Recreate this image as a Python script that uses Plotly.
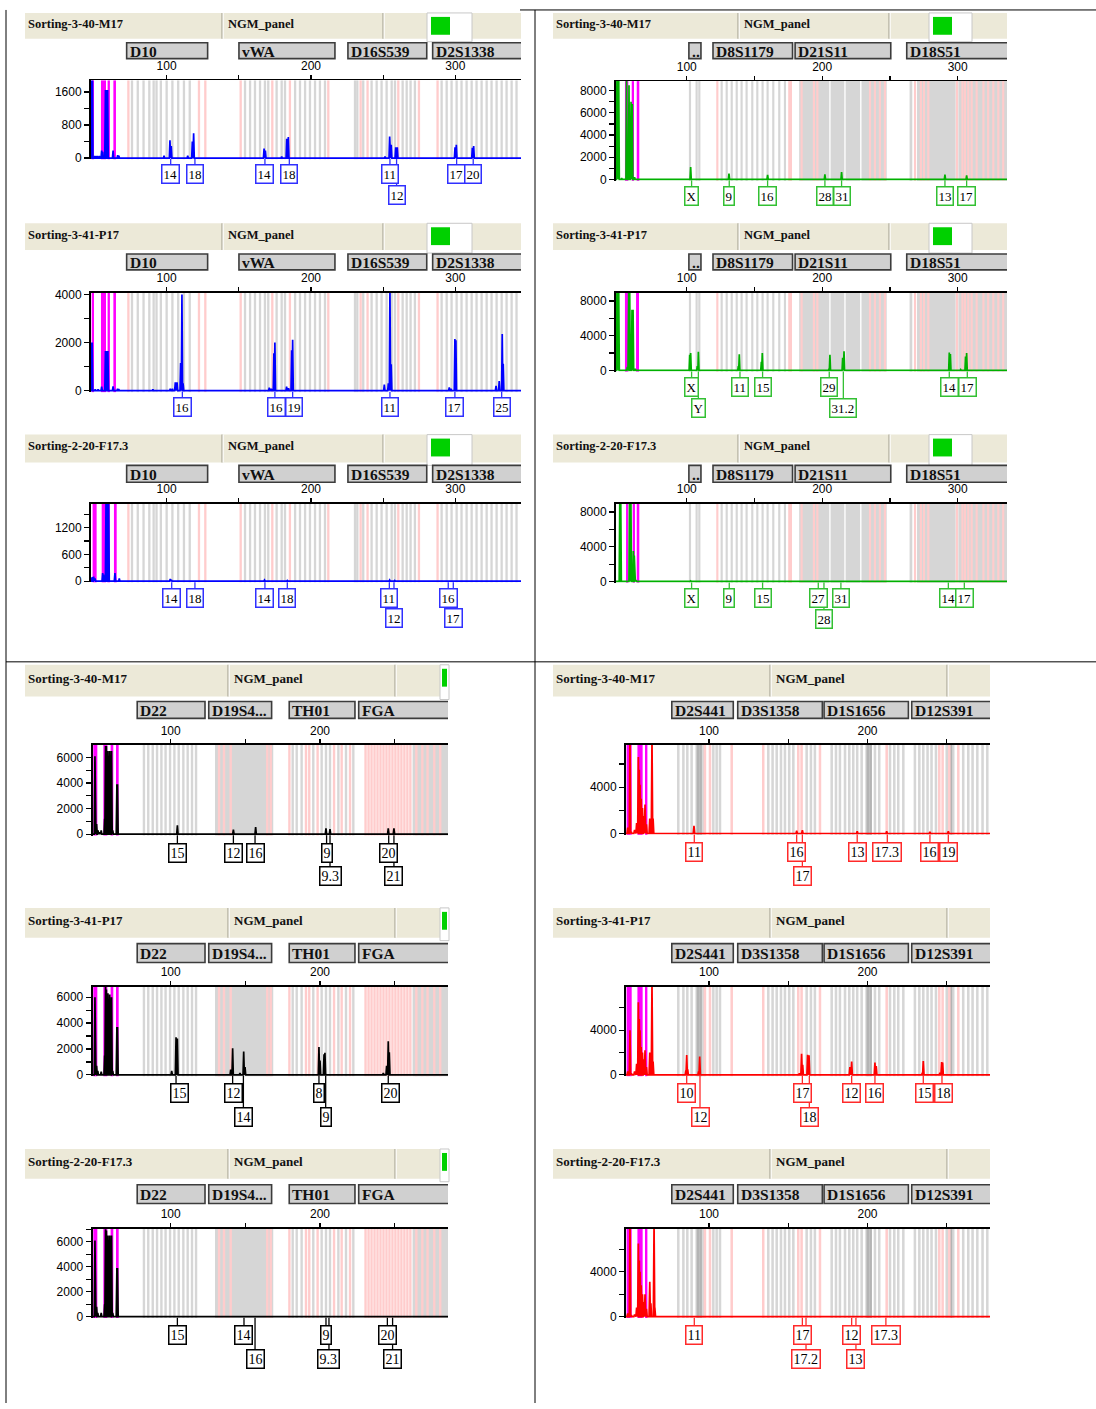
import plotly.graph_objects as go

W, H = 1096, 1409

# ---------------------------------------------------------------- data
SAMPLES = ["Sorting-3-40-M17", "Sorting-3-41-P17", "Sorting-2-20-F17.3"]
KIT = "NGM_panel"

BLUE_LOCI = ["D10", "vWA", "D16S539", "D2S1338"]
BLUE_LOCUS_BP = [(72.3, 128.4), (150.1, 216.6), (225.6, 280.2), (284.3, 352.0)]
GREEN_LOCI = ["..", "D8S1179", "D21S11", "D18S51"]
GREEN_LOCUS_BP = [(101.6, 110.5), (119.4, 178.1), (180.0, 250.6), (262.4, 345.0)]
BLACK_LOCI = ["D22", "D19S4...", "TH01", "FGA"]
BLACK_LOCUS_BP = [(77.6, 123.0), (125.5, 167.6), (179.4, 223.4), (225.9, 295.0)]
RED_LOCI = ["D2S441", "D3S1358", "D1S1656", "D12S391"]
RED_LOCUS_BP = [(76.5, 115.3), (118.1, 171.5), (172.6, 225.8), (227.9, 290.0)]

# allelic-ladder bins (bp)
BLUE_GRAY = [76, 80, 84, 88, 91, 93, 96, 100, 104, 108, 112, 116,
             154.3, 157.8, 161.2, 164.7, 168.1, 170.4, 176.2, 179.7, 182.0, 189.0, 192.4,
             195.9, 199.3, 202.8, 206.2, 209.7,
             230.5, 232.1, 236.2, 242.0, 245.5, 248.9, 252.4, 255.9, 258.2, 263.5, 266.3, 269.0, 272.0,
             290.5, 294.0, 297.4, 300.9, 304.3, 307.8, 311.3, 314.7, 318.2, 321.7, 325.1, 328.6,
             332.1, 335.5, 339.0, 342.4]
BLUE_PINK = [73.5, 122.4, 126.8, 151.3, 173.2, 185.4, 212.0, 234.4, 239.2, 260.5, 274.8, 287.7]

GREEN_GRAY = [102.4, 107.3, 109.3, 125.8, 129.5, 133.2, 136.9, 140.5, 144.2, 148.4, 152.1,
              156.0, 159.7, 163.9, 168.3, 172.5]
GREEN_BANDS = [(183.0, 205.2), (206.2, 216.3), (217.3, 228.0), (229.0, 247.6),
               (264.5, 266.5), (270.0, 298.5), (300.5, 337.0)]
GREEN_PINK = [122.6, 175.7, 176.9, 184.8, 193.9, 196.4, 235.3, 238.9, 242.6, 246.3,
              268.5, 272.8, 275.1, 278.3, 299.5, 303.5, 305.4, 307.8, 310.3, 314.0,
              319.0, 322.5, 326.3, 330.0, 333.6]

BLACK_GRAY = [82.1, 85.0, 88.0, 90.9, 93.8, 96.6, 99.6, 102.5, 105.4, 108.5, 111.4, 114.3, 117.0,
              181.7, 184.4, 187.7, 195.5, 201.1, 204.0, 206.7, 212.3, 217.4, 222.3]
BLACK_BANDS = [(129.7, 168.7), (262.0, 286.0)]
BLACK_PINK = [132.4, 135.7, 140.2, 164.7, 167.0,
              179.5, 190.6, 192.8, 198.4, 209.4, 214.5, 220.1,
              230.5, 232.5, 234.5, 236.5, 238.5, 240.5, 242.5, 244.5, 246.5, 248.5,
              250.5, 252.5, 254.5, 256.5, 258.5, 260.5,
              264.5, 268.5, 272.0, 276.5, 280.5]

RED_GRAY = [80.6, 83.8, 86.3, 89.0, 92.2, 93.9, 95.3, 96.8, 102.7, 104.8, 106.9,
            137.4, 140.1, 142.7, 145.4, 147.9, 150.6, 153.2, 161.6, 164.3, 166.8,
            177.4, 180.1, 182.6, 185.8, 188.5, 191.0, 193.5, 196.3, 199.4, 201.5, 204.7,
            207.4, 214.2, 216.9, 219.4, 222.6,
            229.9, 232.7, 235.2, 237.9, 240.4, 243.2, 250.0, 254.1, 260.4, 263.6, 266.3,
            269.3, 272.6, 275.6]
RED_PINK = [97.4, 100.6, 114.3, 134.2, 156.3, 158.4, 170.0, 212.1, 245.3, 247.4, 251.6, 257.3]
RED_DARK = [93.0, 94.7, 200.2, 202.0, 252.6]

# peaks: (size bp, height RFU)
TL1_PEAKS = [(47.8, 2600), (48.5, 2600), (50.3, 50), (51.8, 50), (53.3, 50), (55.0, 180), (55.7, 150),
             (57.6, 1650), (58.1, 1650), (58.6, 1650), (59.1, 1650), (62.9, 180), (66.1, 70), (66.9, 60),
             (98.2, 60), (102.3, 430), (103.2, 290), (114.6, 60), (117.8, 400), (118.7, 600),
             (167.5, 230), (168.4, 180), (179.7, 40), (183.2, 470), (184.3, 510),
             (251.3, 40), (254.5, 520), (255.6, 320), (258.7, 260), (259.8, 260),
             (299.8, 260), (300.7, 320), (311.8, 250), (312.7, 290)]
TL2_PEAKS = [(47.8, 2000), (48.4, 2000), (50.5, 60), (52.5, 60), (55.0, 170), (57.6, 1650), (58.2, 1650),
             (58.8, 1650), (59.3, 1650), (62.9, 180), (66.0, 80), (66.8, 70),
             (90.5, 60), (102.5, 80), (104.0, 80), (106.0, 350), (107.2, 350), (109.7, 1150), (110.6, 4000),
             (111.4, 300), (171.1, 120), (172.5, 80), (174.3, 1550), (175.0, 2000),
             (183.1, 170), (184.5, 100), (186.6, 1680), (187.3, 2120),
             (250.8, 250), (253.6, 300), (254.7, 4300), (255.6, 1100),
             (295.8, 130), (297.0, 80), (299.7, 2150), (300.4, 2100),
             (328.2, 200), (330.4, 400), (332.5, 2350), (333.2, 1120)]
TL3_PEAKS = [(47.8, 80), (48.6, 90), (49.4, 100), (50.4, 60), (55.7, 180), (56.3, 150), (58.0, 1800),
             (58.6, 1800), (59.2, 1650), (59.8, 1800), (64.2, 180), (67.2, 60),
             (102.5, 50), (103.3, 30), (118.8, 15), (167.8, 25), (183.6, 15), (254.5, 25), (258.0, 15),
             (296.0, 15), (299.3, 15)]
TR1_PEAKS = [(48.5, 9500), (49.8, 9500), (52.0, 100), (55.6, 9500), (57.4, 8500), (58.9, 7000),
             (59.8, 6800), (61.5, 200),
             (102.9, 1100), (131.2, 510), (159.7, 400), (202.0, 450), (214.3, 660), (290.6, 420), (306.6, 350)]
TR2_PEAKS = [(48.5, 9500), (49.8, 9500), (56.2, 400), (57.2, 9500), (57.9, 9500), (59.6, 7000), (60.4, 7000),
             (62.0, 200),
             (102.2, 1800), (102.9, 2000), (107.8, 500), (108.6, 2150), (138.1, 500), (138.8, 1850),
             (155.1, 1000), (155.8, 2000), (205.0, 200), (205.7, 1800), (215.1, 1450), (216.1, 2200),
             (293.8, 2050), (294.6, 1900), (302.2, 100), (305.8, 1600), (306.6, 2000)]
TR3_PEAKS = [(50.6, 9500), (51.3, 9500), (57.8, 9500), (58.8, 9500), (60.6, 3500), (61.3, 3000), (62.5, 150),
             (102.9, 60), (131.2, 40), (155.8, 40), (197.0, 30), (201.0, 30), (213.8, 30), (293.5, 40),
             (305.5, 40)]
BL1_PEAKS = [(49.3, 6100), (50.4, 800), (51.2, 300), (52.5, 150), (53.5, 300), (55.8, 1200), (56.4, 6900),
             (57.0, 6900), (57.5, 3500), (58.0, 6500), (58.5, 2000), (59.2, 6500), (59.8, 1500), (60.4, 6500),
             (61.2, 300), (64.0, 3900), (64.4, 3900),
             (104.5, 700), (142.0, 350), (156.9, 550), (204.0, 450), (206.7, 400), (245.7, 450), (249.5, 450)]
BL2_PEAKS = [(49.3, 6000), (50.4, 700), (51.2, 300), (53.5, 250), (55.8, 1500), (56.4, 6800), (57.0, 6600),
             (57.5, 4500), (58.0, 6300), (58.5, 2500), (59.2, 6200), (59.8, 1500), (60.4, 6000),
             (61.2, 300), (64.0, 3700), (64.4, 3700),
             (100.7, 300), (103.6, 2900), (104.5, 2800), (140.2, 400), (141.5, 2050), (146.4, 150),
             (148.9, 1800), (149.8, 600), (199.3, 2150), (200.0, 1100), (202.7, 1600), (203.3, 1700),
             (242.4, 150), (244.6, 700), (245.7, 2600), (246.4, 1750)]
BL3_PEAKS = [(49.3, 6100), (50.4, 800), (51.2, 300), (53.5, 300), (55.8, 1000), (56.4, 7000), (57.0, 6900),
             (57.5, 3000), (58.0, 6500), (58.5, 1500), (59.2, 6500), (59.8, 1800), (60.4, 6500),
             (61.2, 300), (64.0, 3900), (64.4, 3900),
             (104.5, 30), (149.1, 20), (156.5, 20), (204.0, 20), (206.0, 20), (245.1, 20), (248.6, 20)]
BR1_PEAKS = [(48.7, 500), (50.1, 9000), (51.0, 150), (53.0, 300), (54.3, 900), (55.4, 6600), (56.0, 5500),
             (56.5, 4200), (57.2, 3000), (58.0, 2200), (58.6, 1500), (59.6, 2500), (60.5, 800), (62.6, 1300),
             (63.3, 1300), (64.0, 8500), (64.7, 1300),
             (90.5, 650), (155.3, 250), (158.9, 280), (193.5, 200), (212.1, 200), (239.4, 150), (251.0, 180)]
BR2_PEAKS = [(48.7, 300), (50.1, 4000), (51.0, 150), (53.0, 300), (54.3, 1000), (55.4, 6500), (56.0, 5000),
             (56.5, 4000), (57.2, 2500), (58.0, 2000), (58.6, 1400), (59.6, 2200), (60.5, 700), (62.6, 2000),
             (63.3, 1200), (64.0, 8500), (64.7, 1200),
             (85.4, 400), (85.9, 1780), (86.5, 500), (93.4, 300), (94.1, 1650), (157.0, 150), (158.4, 1900),
             (159.1, 900), (162.2, 1800), (163.1, 1750), (188.9, 700), (190.0, 1200), (204.7, 1100),
             (205.5, 800), (234.6, 200), (235.2, 1250), (245.7, 200), (246.8, 1150), (247.4, 1100)]
BR3_PEAKS = [(48.7, 300), (50.1, 9000), (51.0, 150), (53.0, 200), (54.3, 800), (55.4, 6500), (56.0, 5000),
             (56.5, 4000), (57.2, 2800), (58.0, 2000), (58.6, 1300), (59.6, 2000), (60.5, 700), (62.6, 3100),
             (63.3, 1200), (65.3, 8500), (65.8, 800),
             (90.7, 20), (158.9, 20), (161.2, 20), (190.0, 20), (192.7, 20), (211.6, 20)]

# off-scale (magenta) regions (bp start, bp end)
TL_OFF = [(48.1, 49.7), (54.5, 58.0), (59.1, 60.7), (63.1, 64.9)]
TL3_OFF = [(48.7, 51.5), (55.0, 58.0), (58.9, 60.7), (63.5, 65.4)]
TR1_OFF = [(54.4, 56.9), (59.4, 61.1), (63.1, 65.0)]
TR2_OFF = [(54.4, 56.9), (62.6, 64.8)]
TR3_OFF = [(55.2, 56.9), (60.1, 61.8), (63.1, 65.0)]
BL_OFF = [(48.2, 50.9), (54.9, 57.6), (59.8, 61.6), (63.4, 65.2)]
BR_OFF = [(48.0, 51.2), (54.8, 58.1), (59.6, 61.1)]

# allele calls: (label, peak bp, label-box bp, row)
TL1_ALLELES = [("14", 102.8, 102.8, 1), ("18", 119.6, 119.6, 1), ("14", 168.1, 168.1, 1), ("18", 185.0, 185.0, 1),
               ("11", 254.7, 254.7, 1), ("12", 259.3, 259.3, 2), ("17", 300.9, 300.9, 1), ("20", 312.4, 312.4, 1)]
TL2_ALLELES = [("16", 110.9, 110.9, 1), ("16", 175.0, 176.2, 1), ("19", 187.3, 188.4, 1), ("11", 254.7, 254.7, 1),
               ("17", 299.7, 299.7, 1), ("25", 332.1, 332.1, 1)]
TL3_ALLELES = [("14", 103.5, 103.5, 1), ("18", 119.6, 119.6, 1), ("14", 168.1, 168.1, 1), ("18", 183.6, 183.6, 1),
               ("11", 254.3, 254.3, 1), ("12", 257.5, 257.5, 2), ("16", 295.1, 295.1, 1), ("17", 298.6, 298.6, 2)]
TR1_ALLELES = [("X", 103.6, 103.6, 1), ("9", 131.4, 131.4, 1), ("16", 159.7, 159.7, 1), ("28", 202.0, 202.0, 1),
               ("31", 214.3, 214.3, 1), ("13", 290.6, 290.6, 1), ("17", 306.6, 306.6, 1)]
TR2_ALLELES = [("X", 103.6, 103.6, 1), ("Y", 108.6, 108.6, 2), ("11", 139.3, 139.3, 1), ("15", 156.0, 156.0, 1),
               ("29", 205.2, 205.2, 1), ("31.2", 215.6, 215.6, 2), ("14", 293.8, 293.8, 1), ("17", 307.1, 307.1, 1)]
TR3_ALLELES = [("X", 103.6, 103.6, 1), ("9", 131.4, 131.4, 1), ("15", 156.0, 156.0, 1), ("27", 197.1, 197.1, 1),
               ("28", 201.3, 201.3, 2), ("31", 213.8, 213.8, 1), ("14", 293.1, 293.1, 1), ("17", 304.9, 304.9, 1)]
BL1_ALLELES = [("15", 104.5, 104.5, 1), ("12", 142.0, 142.0, 1), ("16", 156.5, 156.5, 1), ("9", 204.4, 204.4, 1),
               ("9.3", 206.7, 206.7, 2), ("20", 246.0, 246.0, 1), ("21", 249.5, 249.5, 2)]
BL2_ALLELES = [("15", 103.6, 105.8, 1), ("12", 141.5, 142.0, 1), ("14", 148.7, 148.7, 2), ("8", 199.3, 199.3, 1),
               ("9", 203.8, 203.8, 2), ("20", 245.7, 247.3, 1)]
BL3_ALLELES = [("15", 104.5, 104.5, 1), ("14", 149.1, 149.1, 1), ("16", 156.5, 156.5, 2), ("9", 204.0, 204.0, 1),
               ("9.3", 206.0, 206.0, 2), ("20", 245.1, 245.1, 1), ("21", 248.6, 248.6, 2)]
BR1_ALLELES = [("11", 90.7, 90.7, 1), ("16", 155.3, 155.3, 1), ("17", 158.9, 158.9, 2), ("13", 193.5, 193.5, 1),
               ("17.3", 212.5, 212.5, 1), ("16", 239.4, 239.4, 1), ("19", 251.0, 251.0, 1)]
BR2_ALLELES = [("10", 85.9, 85.9, 1), ("12", 94.3, 94.3, 2), ("17", 158.9, 158.9, 1), ("18", 163.3, 163.3, 2),
               ("12", 190.0, 190.0, 1), ("16", 204.7, 204.7, 1), ("15", 235.2, 236.2, 1), ("18", 247.0, 247.8, 1)]
BR3_ALLELES = [("11", 90.7, 90.7, 1), ("17", 158.9, 158.9, 1), ("17.2", 161.2, 161.2, 2), ("12", 190.0, 190.0, 1),
               ("13", 192.7, 192.7, 2), ("17.3", 211.6, 211.6, 1)]

# y-axis full-scale (RFU) of each electropherogram
TL_YMAX = [1880, 4070, 1733]
TR_YMAX = [8870, 8950, 8950]
BL_YMAX = [6980, 6820, 7050]
BR_YMAX = [7650, 7910, 7830]

# ---------------------------------------------------------------- style / layout
SERIF = "Liberation Serif, Times New Roman, serif"
SANS = "Liberation Sans, Arial, sans-serif"


def X(p):
    return p / W


def Y(p):
    return 1 - p / H


ROWS_TOP = [((8, 34), (38, 54)), ((220, 247), (251, 267)), ((433, 461), (464, 481))]
ROWS_BOT = [((665, 697), (702, 719)), ((910, 940), (946, 965)), ((1153, 1183), (1189, 1208))]

DYES = dict(
    blue=dict(trace="#0000ff", box="#3030ff", gray=BLUE_GRAY, pink=BLUE_PINK, gband=[], dark=[]),
    green=dict(trace="#00b000", box="#33c033", gray=GREEN_GRAY, pink=GREEN_PINK, gband=GREEN_BANDS, dark=[]),
    black=dict(trace="#000000", box="#000000", gray=BLACK_GRAY, pink=BLACK_PINK, gband=BLACK_BANDS, dark=[]),
    red=dict(trace="#ff0000", box="#ff2a2a", gray=RED_GRAY, pink=RED_PINK, gband=[], dark=RED_DARK),
)

QUADS = [
    dict(dye="blue", loci=BLUE_LOCI, lbp=BLUE_LOCUS_BP, px=(91, 521), bp=(47.6, 345.5), hx=(25, 521),
         div=(222, 383), wbox=(427, 472), gsq=(431, 450), rows=ROWS_TOP, xt=[100, 150, 200, 250, 300], big=False),
    dict(dye="green", loci=GREEN_LOCI, lbp=GREEN_LOCUS_BP, px=(616, 1007), bp=(47.8, 336.4), hx=(553, 1007),
         div=(738, 889), wbox=(929, 972), gsq=(933, 952), rows=ROWS_TOP, xt=[100, 150, 200, 250, 300], big=False),
    dict(dye="black", loci=BLACK_LOCI, lbp=BLACK_LOCUS_BP, px=(92.7, 448), bp=(47.8, 285.7), hx=(25, 448),
         div=(228, 395), wbox=(440, 449), gsq=(442, 447), rows=ROWS_BOT, xt=[100, 150, 200, 250], big=True),
    dict(dye="red", loci=RED_LOCI, lbp=RED_LOCUS_BP, px=(626, 990), bp=(47.6, 277.3), hx=(553, 990),
         div=(770, 947), wbox=None, gsq=None, rows=ROWS_BOT, xt=[100, 150, 200, 250], big=True),
]

PANELS = [
    dict(q=0, r=0, top=76, zero=154.3, ymax=TL_YMAX[0], step=400, lab=[0, 800, 1600], peaks=TL1_PEAKS, off=TL_OFF, al=TL1_ALLELES),
    dict(q=0, r=1, top=290, zero=388.7, ymax=TL_YMAX[1], step=1000, lab=[0, 2000, 4000], peaks=TL2_PEAKS, off=TL_OFF, al=TL2_ALLELES),
    dict(q=0, r=2, top=502.7, zero=580.7, ymax=TL_YMAX[2], step=300, lab=[0, 600, 1200], peaks=TL3_PEAKS, off=TL3_OFF, al=TL3_ALLELES),
    dict(q=1, r=0, top=76.7, zero=175.7, ymax=TR_YMAX[0], step=1000, lab=[0, 2000, 4000, 6000, 8000], peaks=TR1_PEAKS, off=TR1_OFF, al=TR1_ALLELES),
    dict(q=1, r=1, top=290, zero=368.3, ymax=TR_YMAX[1], step=2000, lab=[0, 4000, 8000], peaks=TR2_PEAKS, off=TR2_OFF, al=TR2_ALLELES),
    dict(q=1, r=2, top=502.7, zero=581, ymax=TR_YMAX[2], step=2000, lab=[0, 4000, 8000], peaks=TR3_PEAKS, off=TR3_OFF, al=TR3_ALLELES),
    dict(q=2, r=0, top=745.7, zero=835.7, ymax=BL_YMAX[0], step=1000, lab=[0, 2000, 4000, 6000], peaks=BL1_PEAKS, off=BL_OFF, al=BL1_ALLELES),
    dict(q=2, r=1, top=989.3, zero=1078.3, ymax=BL_YMAX[1], step=1000, lab=[0, 2000, 4000, 6000], peaks=BL2_PEAKS, off=BL_OFF, al=BL2_ALLELES),
    dict(q=2, r=2, top=1233.3, zero=1322, ymax=BL_YMAX[2], step=1000, lab=[0, 2000, 4000, 6000], peaks=BL3_PEAKS, off=BL_OFF, al=BL3_ALLELES),
    dict(q=3, r=0, top=745.7, zero=835, ymax=BR_YMAX[0], step=2000, lab=[0, 4000], peaks=BR1_PEAKS, off=BR_OFF, al=BR1_ALLELES),
    dict(q=3, r=1, top=989.3, zero=1078.3, ymax=BR_YMAX[1], step=2000, lab=[0, 4000], peaks=BR2_PEAKS, off=BR_OFF, al=BR2_ALLELES),
    dict(q=3, r=2, top=1233.3, zero=1322, ymax=BR_YMAX[2], step=2000, lab=[0, 4000], peaks=BR3_PEAKS, off=BR_OFF, al=BR3_ALLELES),
]

fig = go.Figure()
shapes = []
annotations = []
layout = {}

GRAY = "#d6d6d6"
PINK = "#ffcccc"
DARK = "#b4b4b4"
HALF_BIN = 0.8
HALF_PEAK = 0.45


def prect(x0, x1, y0, y1, fill, line=None, lw=0, layer="above"):
    shapes.append(dict(type="rect", xref="paper", yref="paper", x0=X(x0), x1=X(x1), y0=Y(y1), y1=Y(y0),
                       fillcolor=fill, line=dict(color=line or fill, width=lw), layer=layer))


def pline(x0, y0, x1, y1, color, w=1):
    shapes.append(dict(type="line", xref="paper", yref="paper", x0=X(x0), x1=X(x1), y0=Y(y0), y1=Y(y1),
                       line=dict(color=color, width=w)))


for k, p in enumerate(PANELS, start=1):
    q = QUADS[p["q"]]
    dye = DYES[q["dye"]]
    big = q["big"]
    sfx = "" if k == 1 else str(k)
    xa, ya = "x" + sfx, "y" + sfx
    (hy0, hy1), (ly0, ly1) = q["rows"][p["r"]]
    bp0, bp1 = q["bp"]

    # ---- header bar
    hx0, hx1 = q["hx"]
    prect(hx0, hx1, hy0, hy1, "#ece9d8")
    for d in q["div"]:
        pline(d, hy0, d, hy1, "#aca899", 1.2)
        pline(d + 1.2, hy0, d + 1.2, hy1, "#ffffff", 1)
    if q["wbox"]:
        prect(q["wbox"][0], q["wbox"][1], hy0, hy1 + 3, "#ffffff", "#c8c8c8", 1)
        prect(q["gsq"][0], q["gsq"][1], hy0 + 4, hy0 + 22, "#00d000")
    hfs = 13 if big else 12.5
    hyc = hy0 + 0.42 * (hy1 - hy0)
    annotations.append(dict(xref="paper", yref="paper", x=X(hx0 + 1), y=Y(hyc), xanchor="left",
                            yanchor="middle", showarrow=False, text="<b>%s</b>" % SAMPLES[p["r"]],
                            font=dict(family=SERIF, size=hfs, color="#111")))
    annotations.append(dict(xref="paper", yref="paper", x=X(q["div"][0] + 4), y=Y(hyc),
                            xanchor="left", yanchor="middle", showarrow=False, text="<b>%s</b>" % KIT,
                            font=dict(family=SERIF, size=hfs, color="#111")))

    # ---- locus boxes
    for name, (a, b) in zip(q["loci"], q["lbp"]):
        shapes.append(dict(type="rect", xref=xa, yref="paper", x0=a, x1=b, y0=Y(ly1), y1=Y(ly0),
                           fillcolor="#d0d0d0", line=dict(color="#3c3c3c", width=1.6), layer="above"))
        annotations.append(dict(xref=xa, yref="paper", x=a, xshift=1, y=Y((ly0 + ly1) / 2 + 0.5),
                                xanchor="left", yanchor="middle", showarrow=False, text="<b>%s</b>" % name,
                                font=dict(family=SERIF, size=15.5, color="#111")))

    # ---- bins
    def vband(a, b, color):
        shapes.append(dict(type="rect", xref=xa, yref=ya + " domain", x0=a, x1=b, y0=0, y1=1,
                           fillcolor=color, line=dict(width=0), layer="below"))

    for a, b in dye["gband"]:
        if a < bp1:
            vband(a, min(b, bp1), GRAY)
    for g in dye["gray"]:
        if g < bp1:
            vband(g - HALF_BIN, g + HALF_BIN, GRAY)
    for g in dye["dark"]:
        vband(g - HALF_BIN, g + HALF_BIN, DARK)
    for g in dye["pink"]:
        if g < bp1:
            vband(g - HALF_BIN, g + HALF_BIN, PINK)
    for a, b in p["off"]:
        vband(a, b, "#ff00ff")

    # ---- trace
    xs, ys = [bp0], [0]
    for bp, h in sorted(p["peaks"]):
        xs += [bp - HALF_PEAK, bp, bp + HALF_PEAK]
        ys += [0, h, 0]
    xs.append(bp1)
    ys.append(0)
    fig.add_trace(go.Scatter(x=xs, y=ys, mode="lines", line=dict(color=dye["trace"], width=1.7),
                             xaxis=xa, yaxis=ya, hoverinfo="skip", showlegend=False))

    # ---- axes
    ymax = p["ymax"]
    pad = 0.015 * ymax
    bottom_px = p["zero"] + 0.015 * (p["zero"] - p["top"])
    yvals = list(range(0, int(ymax) + 1, p["step"]))
    layout["xaxis" + sfx] = dict(
        domain=[X(q["px"][0]), X(q["px"][1])], range=[bp0, bp1], anchor=ya, side="top",
        showline=True, linecolor="black", linewidth=1.5, ticks="outside", ticklen=4, tickwidth=1.2,
        tickcolor="black", tickvals=q["xt"], ticktext=[str(v) if v % 100 == 0 else "" for v in q["xt"]],
        tickfont=dict(family=SANS, size=12, color="black"), showgrid=False, zeroline=False, fixedrange=True)
    layout["yaxis" + sfx] = dict(
        domain=[Y(bottom_px), Y(p["top"])], range=[-pad, ymax], anchor=xa,
        showline=True, linecolor="black", linewidth=2, ticks="outside", ticklen=5, tickwidth=1.2,
        tickcolor="black", tickvals=yvals, ticktext=[str(v) if v in p["lab"] else "" for v in yvals],
        tickfont=dict(family=SANS, size=12, color="black"), showgrid=False, zeroline=False, fixedrange=True)

    # ---- allele call labels
    bh = 19 if big else 17
    r1 = p["zero"] + (9 if big else 8)
    r2 = p["zero"] + (33 if big else 29)
    for txt, lbp, boxbp, row in p["al"]:
        rt = r1 if row == 1 else r2
        shapes.append(dict(type="line", xref=xa, yref="paper", x0=lbp, x1=lbp, y0=Y(p["zero"] + 1),
                           y1=Y(rt + 2), line=dict(color=dye["box"], width=1.3), layer="above"))
        annotations.append(dict(xref=xa, yref="paper", x=boxbp, y=Y(rt + bh / 2), xanchor="center",
                                yanchor="middle", showarrow=False, text=txt,
                                font=dict(family=SERIF, size=14 if big else 13, color="black"),
                                bgcolor="white", bordercolor=dye["box"], borderwidth=1.5, borderpad=1))

# ---- table grid lines
pline(6, 5, 6, 1409, "black", 1)
pline(535, 5, 535, 1409, "black", 1)
pline(6, 662, 1096, 662, "black", 1)
pline(520, 5, 1096, 5, "black", 1)

fig.update_layout(width=W, height=H, margin=dict(l=0, r=0, t=0, b=0), paper_bgcolor="white",
                  plot_bgcolor="white", showlegend=False, shapes=shapes, annotations=annotations, **layout)
fig.write_html("out.html", config={"displayModeBar": False, "staticPlot": True},
               post_script="document.body.style.margin='0';document.body.style.overflow='hidden';")
